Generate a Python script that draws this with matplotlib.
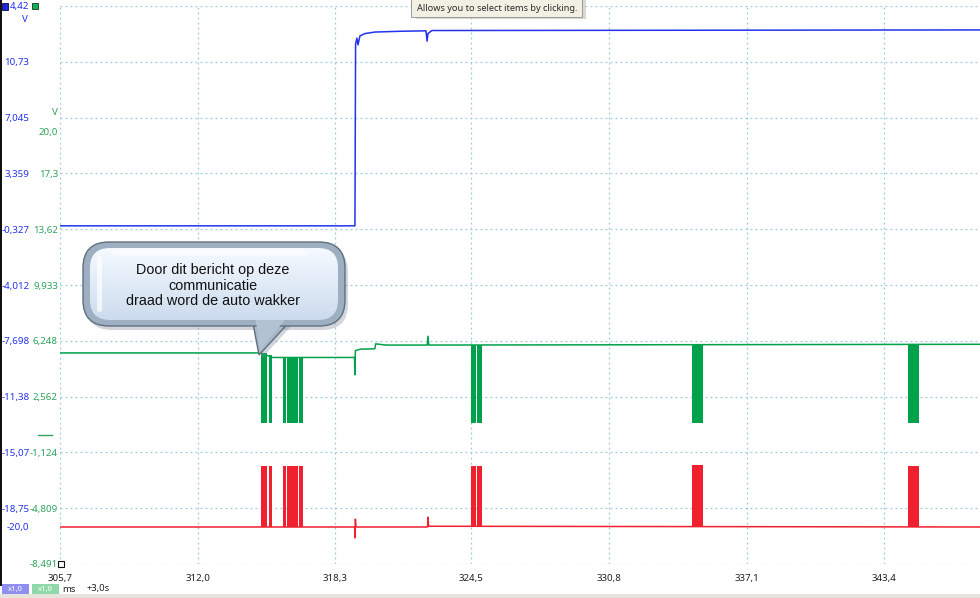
import numpy as np
import matplotlib
matplotlib.use("Agg")
import matplotlib.pyplot as plt
import matplotlib.transforms as mtransforms
from matplotlib.patches import FancyBboxPatch, Rectangle, Polygon

# ------------------------------------------------------------------
# Data
# ------------------------------------------------------------------
# time axis (ms)
X_TICKS = [305.7, 312.0, 318.3, 324.5, 330.8, 337.1, 343.4]
X_LABELS = ["305,7", "312,0", "318,3", "324,5", "330,8", "337,1", "343,4"]
X_RANGE = (305.7, 347.78)

# channel A (blue) scale, V
BLUE_RANGE = (-22.435, 14.42)
BLUE_TICKS = [14.42, 10.73, 7.045, 3.359, -0.327, -4.012, -7.698, -11.38, -15.07, -18.75, -22.435]
BLUE_LABELS = ["4,42", "10,73", "7,045", "3,359", "-0,327", "-4,012", "-7,698",
               "-11,38", "-15,07", "-18,75", ""]

# channel B (green) scale, V
GREEN_RANGE = (-8.491, 28.364)
GREEN_TICKS = [28.364, 24.678, 20.99, 17.3, 13.62, 9.933, 6.248, 2.562, -1.124, -4.809, -8.491]
GREEN_LABELS = ["", "", "", "17,3", "13,62", "9,933", "6,248", "2,562", "-1,124", "-4,809", "-8,491"]

# channel C (red) has no visible scale
RED_RANGE = (-2.444, 34.41)

# blue trace (ignition / supply)
BLUE_T = [305.7, 319.19, 319.22, 319.28, 319.33, 319.42, 319.65, 320.11, 321.25,
          322.44, 322.49, 322.53, 322.71, 347.78]
BLUE_V = [-0.1, -0.1, 11.9, 12.3, 11.85, 12.45, 12.6, 12.7, 12.75,
          12.78, 12.1, 12.6, 12.8, 12.84]

# green trace idle level
GREEN_T = [305.7, 314.89, 315.40, 319.17, 319.19, 319.21, 319.30, 319.45, 320.10,
           320.14, 320.60, 322.50, 322.53, 322.57, 347.78]
GREEN_V = [5.45, 5.45, 5.15, 5.15, 4.0, 5.6, 5.64, 5.7, 5.72,
           6.05, 5.97, 5.97, 6.55, 5.97, 6.02]

# red trace idle level
RED_T = [305.7, 319.18, 319.19, 319.21, 319.24, 322.51, 322.53, 322.56, 347.78]
RED_V = [0.0, 0.0, -0.72, 0.52, 0.0, 0.0, 0.65, 0.05, 0.0]

# message bursts (dense bit toggling shows as solid blocks)
BURST_START = [314.89, 315.25, 315.90, 316.095, 316.375, 316.645, 324.50, 324.755, 334.61, 344.49]
BURST_END = [315.18, 315.40, 316.05, 316.335, 316.60, 316.81, 324.71, 325.00, 335.11, 344.99]
GREEN_TOP = [5.45, 5.3, 5.15, 5.15, 5.15, 5.15, 6.0, 6.0, 6.0, 6.0]
GREEN_LOW = [0.82, 0.82, 0.82, 0.82, 0.82, 0.82, 0.82, 0.82, 0.82, 0.82]
RED_HIGH = [4.03, 4.03, 4.03, 4.03, 4.03, 4.03, 4.03, 4.03, 4.1, 4.03]

NOTE = "Door dit bericht op deze\ncommunicatie\ndraad word de auto wakker"
TOOLTIP = "Allows you to select items by clicking."

BLUE = "#2233ee"
GREEN = "#00a14b"
RED = "#f0202e"
GRID = "#9fcadb"
UI_FONT = ["Noto Sans", "DejaVu Sans"]

W, H = 980, 598
fig = plt.figure(figsize=(W / 100, H / 100), dpi=100)
fig.patch.set_facecolor("white")

ax = fig.add_axes([60 / W, 34 / H, 920 / W, 558 / H])
ax.set_xlim(*X_RANGE)
ax.set_ylim(*BLUE_RANGE)
ax.set_facecolor("white")
for s in ax.spines.values():
    s.set_visible(False)
ax.set_xticks(X_TICKS)
ax.set_xticklabels(X_LABELS, fontsize=7, family=UI_FONT, color="#222222")
ax.set_yticks(BLUE_TICKS)
ax.set_yticklabels(BLUE_LABELS, fontsize=7, family=UI_FONT, color=BLUE)
ax.tick_params(axis="x", length=0, pad=7)
ax.tick_params(axis="y", length=0, pad=22)
ax.grid(True, color=GRID, linestyle=(0, (1.5, 2.5)), linewidth=0.9)
ax.set_axisbelow(True)

ax_g = ax.twinx()
ax_g.set_ylim(*GREEN_RANGE)
ax_g.yaxis.tick_left()
ax_g.set_yticks(GREEN_TICKS)
ax_g.set_yticklabels(GREEN_LABELS, fontsize=7, family=UI_FONT, color="#2ea35c")
ax_g.tick_params(axis="y", length=0, pad=1.5)
for s in ax_g.spines.values():
    s.set_visible(False)

ax_r = ax.twinx()
ax_r.set_ylim(*RED_RANGE)
ax_r.set_yticks([])
for s in ax_r.spines.values():
    s.set_visible(False)

# traces
ax.plot(BLUE_T, BLUE_V, color=BLUE, lw=1.1)
ax_g.plot(GREEN_T, GREEN_V, color=GREEN, lw=1.1)
ax_r.plot(RED_T, RED_V, color=RED, lw=1.1)

widths = np.array(BURST_END) - np.array(BURST_START)
ax_g.bar(BURST_START, np.array(GREEN_TOP) - np.array(GREEN_LOW), bottom=GREEN_LOW,
         width=widths, align="edge", color=GREEN, linewidth=0)
ax_r.bar(BURST_START, RED_HIGH, bottom=0, width=widths, align="edge",
         color=RED, linewidth=0)

# extra scale markers on the left
tb = mtransforms.blended_transform_factory(ax.transAxes, ax.transData)
tg = mtransforms.blended_transform_factory(ax_g.transAxes, ax_g.transData)
ax.text(-0.0337, -20.0, "-20,0", transform=tb, ha="right", va="center",
        fontsize=7, family=UI_FONT, color=BLUE, clip_on=False)
ax.text(-0.038, 13.5, "V", transform=tb, ha="center", va="center",
        fontsize=7, family=UI_FONT, color=BLUE, clip_on=False)
ax_g.text(-0.002, 20.0, "20,0", transform=tg, ha="right", va="center",
          fontsize=7, family=UI_FONT, color="#2ea35c", clip_on=False)
ax_g.text(-0.0055, 21.3, "V", transform=tg, ha="center", va="center",
          fontsize=7, family=UI_FONT, color="#2ea35c", clip_on=False)
ax_g.plot([-0.024, -0.009], [0, 0], transform=tg, color="#2ea35c", lw=1.0, clip_on=False)

# ------------------------------------------------------------------
# Screen overlay (pixel coordinates): callout, tooltip, status strip
# ------------------------------------------------------------------
ov = fig.add_axes([0, 0, 1, 1], zorder=10)
ov.set_xlim(0, W)
ov.set_ylim(H, 0)
ov.axis("off")
ov.patch.set_alpha(0)

# left window border
ov.add_patch(Rectangle((0, 0), 1.8, 586, color="#111111", lw=0))
# channel squares
ov.add_patch(Rectangle((2, 3), 6, 7, facecolor="#1a2ad8", edgecolor="#0a0a50", lw=0.6))
ov.add_patch(Rectangle((32, 3), 6, 6, facecolor="#1aa85a", edgecolor="#0a3a1a", lw=0.6))
ov.add_patch(Rectangle((58, 561), 6, 6, facecolor="white", edgecolor="#111111", lw=0.8))

# status strip
ov.add_patch(Rectangle((0, 594), W, 4, color="#e6e3dc", lw=0))
ov.add_patch(Rectangle((1.5, 584), 27, 9.5, color="#8f8ff0", lw=0))
ov.add_patch(Rectangle((31.5, 584), 27, 9.5, color="#8ed8aa", lw=0))
ov.text(15, 589, "x1,0", ha="center", va="center", fontsize=5.5, family=UI_FONT, color="white")
ov.text(45, 589, "x1,0", ha="center", va="center", fontsize=5.5, family=UI_FONT, color="white")
ov.text(62, 589, "ms", ha="left", va="center", fontsize=6.8, family=UI_FONT, color="#222222")
ov.text(86, 589, "+3,0s", ha="left", va="center", fontsize=6.8, family=UI_FONT, color="#222222")

# tooltip
ov.add_patch(Rectangle((416, -2), 170, 21, color="#c8c6c0", lw=0, alpha=0.7))
ov.add_patch(Rectangle((411, -3), 171, 20, facecolor="#f2f0e4", edgecolor="#9a9a96", lw=0.7))
ov.text(497, 8.5, TOOLTIP, ha="center", va="center", fontsize=6.6,
        family=UI_FONT, color="#2a2a2a")

# speech bubble
tail_outer = [(252, 318), (259, 355), (293, 318)]
ov.add_patch(Polygon([(x + 3, y + 3) for x, y in tail_outer], closed=True,
                     color="#7f8a96", alpha=0.35, lw=0))
ov.add_patch(FancyBboxPatch((86, 246), 262, 84, boxstyle="round,pad=0,rounding_size=26",
                            color="#7f8a96", alpha=0.35, lw=0))
ov.add_patch(Polygon(tail_outer, closed=True, facecolor="#a9b8c9",
                     edgecolor="#5f6f80", lw=1.0))
outer = FancyBboxPatch((83, 242), 262, 84, boxstyle="round,pad=0,rounding_size=26",
                       facecolor="#9eafc2", edgecolor="#5f6f80", lw=1.0)
ov.add_patch(outer)
ov.add_patch(Polygon([(255, 315), (260, 350), (289, 315)], closed=True,
                     facecolor="#b3c2d3", edgecolor="none"))
inner = FancyBboxPatch((90, 248), 248, 72, boxstyle="round,pad=0,rounding_size=20",
                       facecolor="none", edgecolor="none")
ov.add_patch(inner)
grad = np.linspace(0, 1, 64).reshape(-1, 1)
top_c = np.array([0.96, 0.98, 1.0])
bot_c = np.array([0.80, 0.86, 0.93])
img = top_c * (1 - grad[..., None]) + bot_c * grad[..., None]
img = np.repeat(img, 2, axis=1)
gi = ov.imshow(img, extent=(90, 338, 320, 248), aspect="auto", zorder=2.5,
               interpolation="bilinear")
gi.set_clip_path(inner)
ov.add_patch(FancyBboxPatch((97, 256), 5, 56, boxstyle="round,pad=0,rounding_size=2.5",
                            color="white", alpha=0.7, lw=0, zorder=2.6))
ov.add_patch(FancyBboxPatch((112, 250), 196, 6, boxstyle="round,pad=0,rounding_size=3",
                            color="white", alpha=0.55, lw=0, zorder=2.6))
ov.text(213, 285.5, NOTE, ha="center", va="center", fontsize=10.4,
        family=["Liberation Sans", "DejaVu Sans"], color="#111111",
        linespacing=1.12, zorder=3)

fig.savefig("out.png", dpi=100)
